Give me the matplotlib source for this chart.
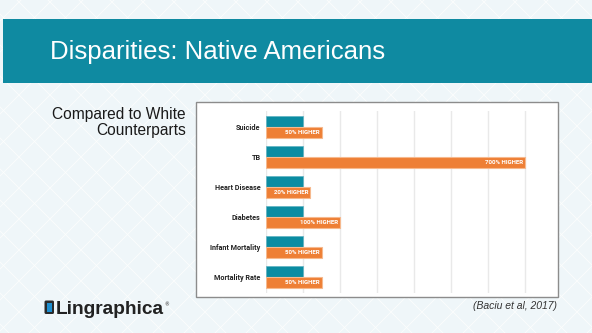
import matplotlib
matplotlib.use("Agg")
import matplotlib.pyplot as plt
from matplotlib.patches import Rectangle, FancyBboxPatch
from matplotlib import font_manager
import numpy as np

categories = ["Suicide", "TB", "Heart Disease", "Diabetes", "Infant Mortality", "Mortality Rate"]
white_rate = [1, 1, 1, 1, 1, 1]
native_rate = [1.5, 7.0, 1.2, 2.0, 1.5, 1.5]
bar_labels = ["50% HIGHER", "700% HIGHER", "20% HIGHER", "100% HIGHER", "50% HIGHER", "50% HIGHER"]

title = "Disparities: Native Americans"
subtitle = ["Compared to White", "Counterparts"]
citation = "(Baciu et al, 2017)"
brand = "Lingraphica"

W, H = 592, 333
TEAL = "#0F8AA1"
BAR_TEAL = "#0B8CA2"
ORANGE = "#EE7F35"

available = {f.name for f in font_manager.fontManager.ttflist}


def pick(names, default="DejaVu Sans"):
    for n in names:
        if n in available:
            return n
    return default


NARROW = pick(["Liberation Sans Narrow", "DejaVu Sans Condensed", "Roboto", "Liberation Sans"])
SANS = pick(["Liberation Sans", "Roboto"])

fig = plt.figure(figsize=(W / 100, H / 100), dpi=100)
fig.patch.set_facecolor("#EFF6F9")

# background layer in pixel coordinates
bg = fig.add_axes([0, 0, 1, 1], zorder=0)
bg.set_xlim(0, W)
bg.set_ylim(H, 0)
bg.axis("off")
P = 31
xs = np.array([-400, W + 400])
for k in range(-20, 40):
    c = k * P + 21
    bg.plot(xs, c - xs, color="white", lw=0.6, alpha=0.8, zorder=0)
    d = k * P + 7 - 300
    bg.plot(xs, xs - d, color="white", lw=0.6, alpha=0.8, zorder=0)

# header band
bg.add_patch(Rectangle((3, 19.3), W - 3, 64, facecolor=TEAL, edgecolor="none", zorder=2))
bg.text(50, 59.5, title, color="white", fontsize=18.5, family=SANS,
        va="baseline", ha="left", zorder=3)

# subtitle
bg.text(186, 119, subtitle[0], fontsize=11.2, family=SANS, color="#1a1a1a",
        ha="right", va="baseline", zorder=3)
bg.text(186, 135.5, subtitle[1], fontsize=11.2, family=SANS, color="#1a1a1a",
        ha="right", va="baseline", zorder=3)

# chart box
bg.add_patch(Rectangle((195.5, 101.5), 362.5, 195.5, facecolor="white",
                       edgecolor="#8c8c8c", lw=1, zorder=2))

# logo
bg.add_patch(FancyBboxPatch((44.5, 300.5), 9.5, 13.5, boxstyle="round,pad=0,rounding_size=1.5",
                            facecolor="#2b2b2b", edgecolor="none", zorder=3))
bg.add_patch(Rectangle((47.2, 302.5), 4.8, 9.5, facecolor="#1F8FD0", edgecolor="none", zorder=4))
t = bg.text(56, 314.3, brand, fontsize=13.8, family=SANS, weight="bold",
            color="#222222", ha="left", va="baseline", zorder=3)
bg.annotate("®", xy=(1, 0.62), xycoords=t, xytext=(0, 0), textcoords="offset points",
            fontsize=3.5, color="#222222", ha="left", va="bottom", zorder=3)

# citation
bg.text(557, 309, citation, fontsize=7.5, family=SANS, style="italic",
        color="#333333", ha="right", va="baseline", zorder=3)

# chart axes
left, right, top, bottom = 266, 543.5, 111, 293
ax = fig.add_axes([left / W, 1 - bottom / H, (right - left) / W, (bottom - top) / H], zorder=5)
ax.patch.set_alpha(0)
y = np.arange(len(categories))
h = 11 / 30
ax.barh(y - h / 2, white_rate, height=h, color=BAR_TEAL, edgecolor="#5FB3C3", lw=0.5, zorder=3)
ax.barh(y + h / 2, native_rate, height=h, color=ORANGE, edgecolor="#F6B98E", lw=0.8, zorder=3)
for yi, v, lab in zip(y, native_rate, bar_labels):
    ax.text(v - 0.06, yi + h / 2, lab, color="white", fontsize=4.4, weight="bold",
            family=NARROW, ha="right", va="center", zorder=4)
ax.set_xlim(0, 7.5)
ax.set_ylim(5.55, -0.517)
ax.set_xticks(range(0, 8))
ax.xaxis.grid(True, color="#E9E9E9", lw=1)
ax.set_axisbelow(True)
ax.tick_params(axis="x", length=0, labelbottom=False)
ax.set_yticks(y)
ax.set_yticklabels(categories, fontsize=5.2, weight="bold", color="#222222", family=NARROW)
ax.tick_params(axis="y", length=0, pad=4)
for s in ax.spines.values():
    s.set_visible(False)

fig.savefig("out.png", dpi=100, facecolor=fig.get_facecolor())
